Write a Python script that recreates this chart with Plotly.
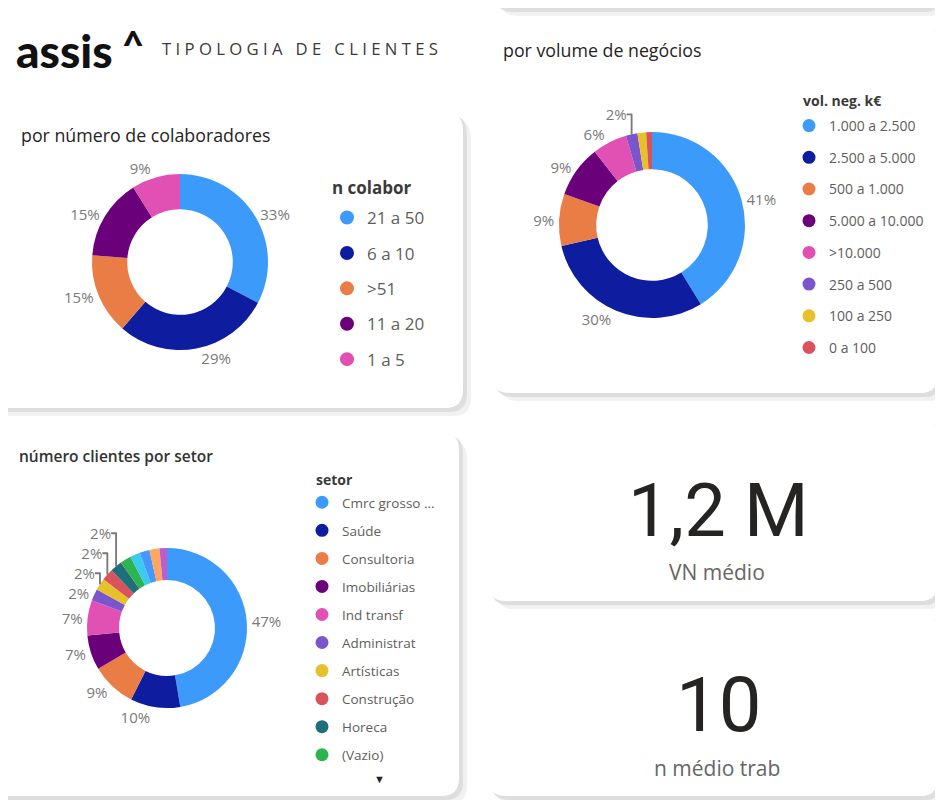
import plotly.graph_objects as go

W, H = 943, 800
OFF = 8  # page body margin: figure drawn 8px in from the window corner

# ---- data ----
colab_labels = ["21 a 50", "6 a 10", ">51", "11 a 20", "1 a 5"]
colab_values = [33, 29, 15, 15, 9]

vol_labels = ["1.000 a 2.500", "2.500 a 5.000", "500 a 1.000", "5.000 a 10.000",
              ">10.000", "250 a 500", "100 a 250", "0 a 100"]
vol_values = [41, 30, 9, 9, 6, 2, 1.5, 1]

setor_labels = ["Cmrc grosso ...", "Saúde", "Consultoria", "Imobiliárias", "Ind transf",
                "Administrat", "Artísticas", "Construção", "Horeca", "(Vazio)",
                "Educação", "Transportes", "Tecnologia", "Agricultura"]
setor_values = [47, 10, 9, 7, 7, 2.4, 2.4, 2.4, 2.4, 2.2, 2, 2, 2, 1.5]

kpi_vn = "1,2 M"
kpi_trab = "10"

palette = ["#3C9BFA", "#0E1DA0", "#EA7D45", "#6B007B", "#E151B3", "#7A55CC", "#E7C12C",
           "#D9535C", "#1F6F7A", "#2DB34F", "#3CCBF0", "#4A96FF", "#FFA65F", "#BE5DC9"]

FONT = "Open Sans"
LABEL_GREY = "#7a7a7a"
LEG_GREY = "#605E5C"


def fx(x):
    return (x - OFF) / W


def fy(y):
    return 1 - (y - OFF) / H


def rrect(x0, y0, x1, y1, r):
    return (f"M{x0+r},{y0} L{x1-r},{y0} Q{x1},{y0} {x1},{y0+r} L{x1},{y1-r} "
            f"Q{x1},{y1} {x1-r},{y1} L{x0+r},{y1} Q{x0},{y1} {x0},{y1-r} "
            f"L{x0},{y0+r} Q{x0},{y0} {x0+r},{y0} Z")


def pct_text(values, min_val):
    return ["%{percent:.0%}" if v >= min_val else "" for v in values]


def dom(cx, cy, r):
    return dict(x=[fx(cx - r), fx(cx + r)], y=[fy(cy + r), fy(cy - r)])


fig = go.Figure()

pie_common = dict(hole=0.6, sort=False, direction="clockwise", rotation=0,
                  textposition="outside", showlegend=False, hoverinfo="label+percent",
                  textfont=dict(family=FONT, size=15, color=LABEL_GREY),
                  marker_line_width=0)

fig.add_trace(go.Pie(labels=colab_labels, values=colab_values,
                     marker_colors=palette[:len(colab_labels)],
                     texttemplate=pct_text(colab_values, 0),
                     domain=dom(180, 262, 88), **pie_common))
fig.add_trace(go.Pie(labels=vol_labels, values=vol_values,
                     marker_colors=palette[:len(vol_labels)],
                     texttemplate=pct_text(vol_values, 2),
                     domain=dom(652, 225, 93), **pie_common))
fig.add_trace(go.Pie(labels=setor_labels, values=setor_values,
                     marker_colors=palette[:len(setor_labels)],
                     texttemplate=pct_text(setor_values, 2.4),
                     domain=dom(167, 628, 80), **pie_common))

# legend entries (first 10 of sector legend visible, rest scroll)
for i, lab in enumerate(colab_labels):
    fig.add_trace(go.Scatter(x=[None], y=[None], mode="markers", name=lab,
                             marker=dict(color=palette[i], size=14), legend="legend",
                             legendgroup=f"c{i}", hoverinfo="skip"))
for i, lab in enumerate(vol_labels):
    fig.add_trace(go.Scatter(x=[None], y=[None], mode="markers", name=lab,
                             marker=dict(color=palette[i], size=13), legend="legend2",
                             legendgroup=f"v{i}", hoverinfo="skip"))
for i, lab in enumerate(setor_labels[:10]):
    fig.add_trace(go.Scatter(x=[None], y=[None], mode="markers", name=lab,
                             marker=dict(color=palette[i], size=13), legend="legend3",
                             legendgroup=f"s{i}", hoverinfo="skip"))

leg_common = dict(xanchor="left", yanchor="top", bgcolor="rgba(0,0,0,0)",
                  traceorder="grouped", borderwidth=0)

# cards
shapes = []
cards = [(-30, 112, 463, 408), (492, 25, 938, 393), (492, -60, 938, 8),
         (-30, 432, 459, 796), (488, 420, 938, 601), (488, 614, 938, 796)]
for x0, y0, x1, y1 in cards:
    shapes.append(dict(type="path", path=rrect(x0 + 8, y0 + 8, x1 + 8, y1 + 8, 18),
                       xref="x", yref="y", fillcolor="#f1f1f1", line_width=0, layer="below"))
    shapes.append(dict(type="path", path=rrect(x0 + 3, y0 + 3, x1 + 4, y1 + 4, 18),
                       xref="x", yref="y", fillcolor="#dedede", line_width=0, layer="below"))
    shapes.append(dict(type="path", path=rrect(x0, y0, x1, y1, 18),
                       xref="x", yref="y", fillcolor="white", line_width=0, layer="below"))

ann = []


def text(x, y, s, size, color="#252423", anchor="left", family=FONT, weight="normal"):
    ann.append(dict(x=x, y=y, xref="x", yref="y", text=s, showarrow=False,
                    xanchor=anchor, yanchor="middle",
                    font=dict(family=family, size=size, color=color, weight=weight)))


text(14, 50, "assis", 46, "#111111", family="Lato", weight=900)
text(120, 44, "^", 38, "#111111", family="Lato", weight=900)
text(160, 48, " ".join("TIPOLOGIA") + "   " + " ".join("DE") + "   " + " ".join("CLIENTES"),
     16.7, "#3a3a3a")
text(19, 135, "por número de colaboradores", 17.8)
text(501, 50, "por volume de negócios", 17.8)
text(17, 456, "número clientes por setor", 15.5, "#333333", weight=600)
text(718, 510, kpi_vn, 74, "#252423", anchor="center", family="Roboto")
text(717, 572, "VN médio", 21, "#666666", anchor="center")
text(718, 705, kpi_trab, 76, "#252423", anchor="center", family="Roboto")
text(717, 768, "n médio trab", 21, "#666666", anchor="center")
text(379, 778, "▼", 11, "#252423", anchor="center")
# legend titles
text(330, 187, "n colabor", 17, "#3b3a39", weight="bold")
text(801, 100, "vol. neg. k€", 14, "#3b3a39", weight="bold")
text(314, 479, "setor", 14, "#3b3a39", weight="bold")

fig.update_layout(
    width=W, height=H, margin=dict(l=0, r=0, t=0, b=0, autoexpand=False),
    paper_bgcolor="white", plot_bgcolor="rgba(0,0,0,0)",
    xaxis=dict(range=[OFF, W + OFF], visible=False, fixedrange=True),
    yaxis=dict(range=[H + OFF, OFF], visible=False, fixedrange=True),
    shapes=shapes, annotations=ann,
    legend=dict(x=fx(327), y=fy(200), tracegroupgap=10.3,
                font=dict(family=FONT, size=17, color=LEG_GREY), **leg_common),
    legend2=dict(x=fx(789), y=fy(110), tracegroupgap=10.5,
                 font=dict(family=FONT, size=14, color=LEG_GREY), **leg_common),
    legend3=dict(x=fx(302), y=fy(487), tracegroupgap=7.5,
                 font=dict(family=FONT, size=13.5, color=LEG_GREY), **leg_common),
)

fig.write_html("out.html")
